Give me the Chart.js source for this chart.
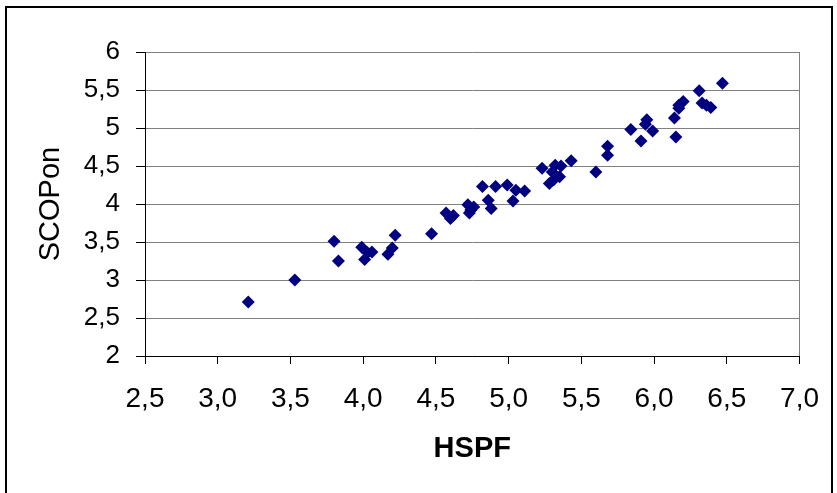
<!DOCTYPE html>
<html>
<head>
<meta charset="utf-8">
<script src="https://cdn.jsdelivr.net/npm/chart.js@4/dist/chart.umd.min.js"></script>
<style>
  html, body { margin:0; padding:0; background:#fff; }
  #wrap { position:relative; width:837px; height:493px; overflow:hidden; }
  #frame { position:absolute; left:5px; top:6px; width:828px; height:500px; border:2px solid #000; box-sizing:border-box; pointer-events:none; }
  canvas { position:absolute; left:0; top:0; }
</style>
</head>
<body>
<div id="wrap">
  <canvas id="c" width="837" height="493"></canvas>
  <div id="frame"></div>
</div>
<script>
// ─── Data ───────────────────────────────────────────────────────────────────
const hspf = [
  3.21, 3.53, 3.80, 3.83, 3.99, 4.01, 4.03, 4.06, 4.17, 4.20, 4.22, 4.47,
  4.57, 4.62, 4.60, 4.72, 4.74, 4.73, 4.76, 4.82, 4.91, 4.99, 4.86, 4.88,
  5.05, 5.03, 5.11, 5.23, 5.32, 5.36, 5.43, 5.28, 5.31, 5.35, 5.30, 5.60,
  5.68, 5.68, 5.84, 5.91, 5.94, 5.95, 5.99, 6.14, 6.15, 6.17, 6.20, 6.17,
  6.31, 6.33, 6.36, 6.39, 6.47
];
const scop = [
  2.71, 3.00, 3.51, 3.25, 3.43, 3.27, 3.36, 3.37, 3.34, 3.42, 3.59, 3.61,
  3.88, 3.85, 3.81, 3.99, 3.92, 3.88, 3.96, 4.23, 4.23, 4.25, 4.05, 3.94,
  4.18, 4.04, 4.17, 4.47, 4.51, 4.50, 4.57, 4.27, 4.32, 4.36, 4.42, 4.42,
  4.64, 4.76, 4.98, 4.83, 5.05, 5.11, 4.96, 5.13, 4.88, 5.26, 5.35, 5.30,
  5.49, 5.33, 5.30, 5.27, 5.59
];
const xTickLabels = ['2,5','3,0','3,5','4,0','4,5','5,0','5,5','6,0','6,5','7,0'];
const yTickLabels = ['2','2,5','3','3,5','4','4,5','5','5,5','6'];

const points = hspf.map((x, i) => ({ x, y: scop[i] }));

const FONT = "'Liberation Sans', Arial, sans-serif";

new Chart(document.getElementById('c'), {
  type: 'scatter',
  data: {
    datasets: [{
      label: 'SCOPon',
      data: points,
      pointStyle: 'rectRot',
      pointRadius: 6.5,
      pointHoverRadius: 6.5,
      backgroundColor: '#000080',
      borderColor: '#000080',
      borderWidth: 0,
    }]
  },
  options: {
    responsive: false,
    animation: false,
    layout: { padding: { left: 0, top: 52, right: 33, bottom: 0 } },
    plugins: { legend: { display: false }, tooltip: { enabled: false } },
    scales: {
      x: {
        type: 'linear', min: 2.5, max: 7,
        afterFit: s => { s.height = 137; },
        ticks: {
          stepSize: 0.5, color: '#000', padding: 18,
          font: { family: FONT, size: 28 },
          maxRotation: 0, autoSkip: false,
          callback: (v, i) => xTickLabels[i],
        },
        grid: {
          drawOnChartArea: true, drawTicks: true, tickLength: 8,
          tickColor: '#000', lineWidth: 1,
          // only the right plot border, no vertical gridlines
          color: c => (c.tick && c.tick.value === 7) ? '#808080' : 'rgba(0,0,0,0)',
        },
        border: { color: '#000', width: 1 },
        title: {
          display: true, text: 'HSPF', color: '#000',
          font: { family: FONT, size: 29, weight: 'bold' },
          padding: { top: 0, bottom: 27 },
        },
      },
      y: {
        type: 'linear', min: 2, max: 6,
        afterFit: s => { s.width = 145; },
        ticks: {
          stepSize: 0.5, color: '#000', padding: 16,
          font: { family: FONT, size: 26 },
          autoSkip: false,
          callback: (v, i) => yTickLabels[i],
        },
        grid: {
          drawTicks: true, tickLength: 9, tickColor: '#000',
          color: '#808080', lineWidth: 1,
        },
        border: { color: '#000', width: 1 },
        title: {
          display: true, text: 'SCOPon', color: '#000',
          font: { family: FONT, size: 29 },
          padding: { top: 34, bottom: 0 },
        },
      },
    },
  },
});
</script>
</body>
</html>
